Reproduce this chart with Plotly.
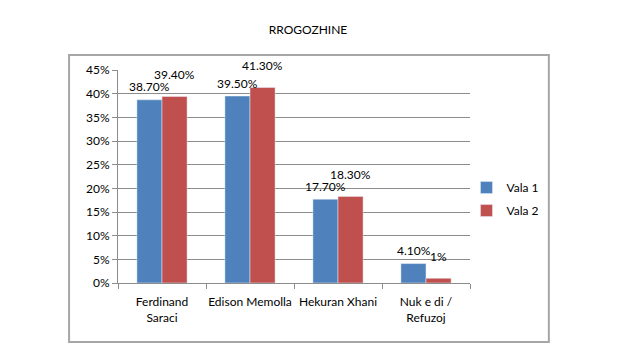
import plotly.graph_objects as go

categories = ["Ferdinand<br>Saraci", "Edison Memolla", "Hekuran Xhani", "Nuk e di /<br>Refuzoj"]
vala1 = [0.387, 0.395, 0.177, 0.041]
vala2 = [0.394, 0.413, 0.183, 0.01]
labels1 = ["38.70%", "39.50%", "17.70%", "4.10%"]
labels2 = ["39.40%", "41.30%", "18.30%", "1%"]
series_names = ["Vala 1", "Vala 2"]
colors = ["#4F81BD", "#C0504D"]
title_text = "RROGOZHINE"

FONT = "Lato"

fig = go.Figure()
fig.add_trace(go.Bar(x=categories, y=vala1, name=series_names[0], marker_color=colors[0], legendgroup="a"))
fig.add_trace(go.Bar(x=categories, y=vala2, name=series_names[1], marker_color=colors[1], legendgroup="b"))

annotations = []
for vals, labs, xs, ys in ((vala1, labels1, -12.5, 13), (vala2, labels2, 12.5, 22)):
    for c, v, t in zip(categories, vals, labs):
        annotations.append(dict(x=c, y=v, text=t, xref="x", yref="y", showarrow=False,
                                xshift=xs, yshift=ys, yanchor="middle",
                                font=dict(family=FONT, size=12, color="#000000")))

fig.update_layout(
    width=619, height=354,
    margin=dict(l=118, r=149, t=70, b=71, autoexpand=False),
    paper_bgcolor="white", plot_bgcolor="white",
    barmode="group", bargap=0.43, bargroupgap=0,
    font=dict(family=FONT, size=12, color="#000000"),
    title=dict(text=title_text, x=0.4976, xanchor="center", y=1 - 30 / 354, yanchor="middle",
               font=dict(family=FONT, size=12, color="#000000")),
    legend=dict(x=0.99, y=0.394, xanchor="left", yanchor="middle", itemwidth=30,
                font=dict(family=FONT, size=12), tracegroupgap=4, bgcolor="rgba(0,0,0,0)"),
    annotations=annotations,
    shapes=[dict(type="rect", xref="paper", yref="paper", x0=-0.139, x1=1.224, y0=-0.277, y1=1.070,
                 line=dict(color="#a6a6a6", width=2), layer="below")],
)
fig.update_yaxes(range=[0, 0.45], dtick=0.05, tickformat=".0%", showgrid=True, gridcolor="#8c8c8c",
                 gridwidth=1, showline=True, linecolor="#8c8c8c", linewidth=1, ticks="outside",
                 ticklen=5, tickcolor="#8c8c8c", zeroline=False, automargin=False,
                 tickfont=dict(family=FONT, size=12))
fig.update_xaxes(showline=True, linecolor="#8c8c8c", linewidth=1, ticks="outside", ticklen=5,
                 tickcolor="#8c8c8c", tickson="boundaries", ticklabelstandoff=8, tickangle=0,
                 automargin=False, tickfont=dict(family=FONT, size=12))

fig.write_html("out.html")
